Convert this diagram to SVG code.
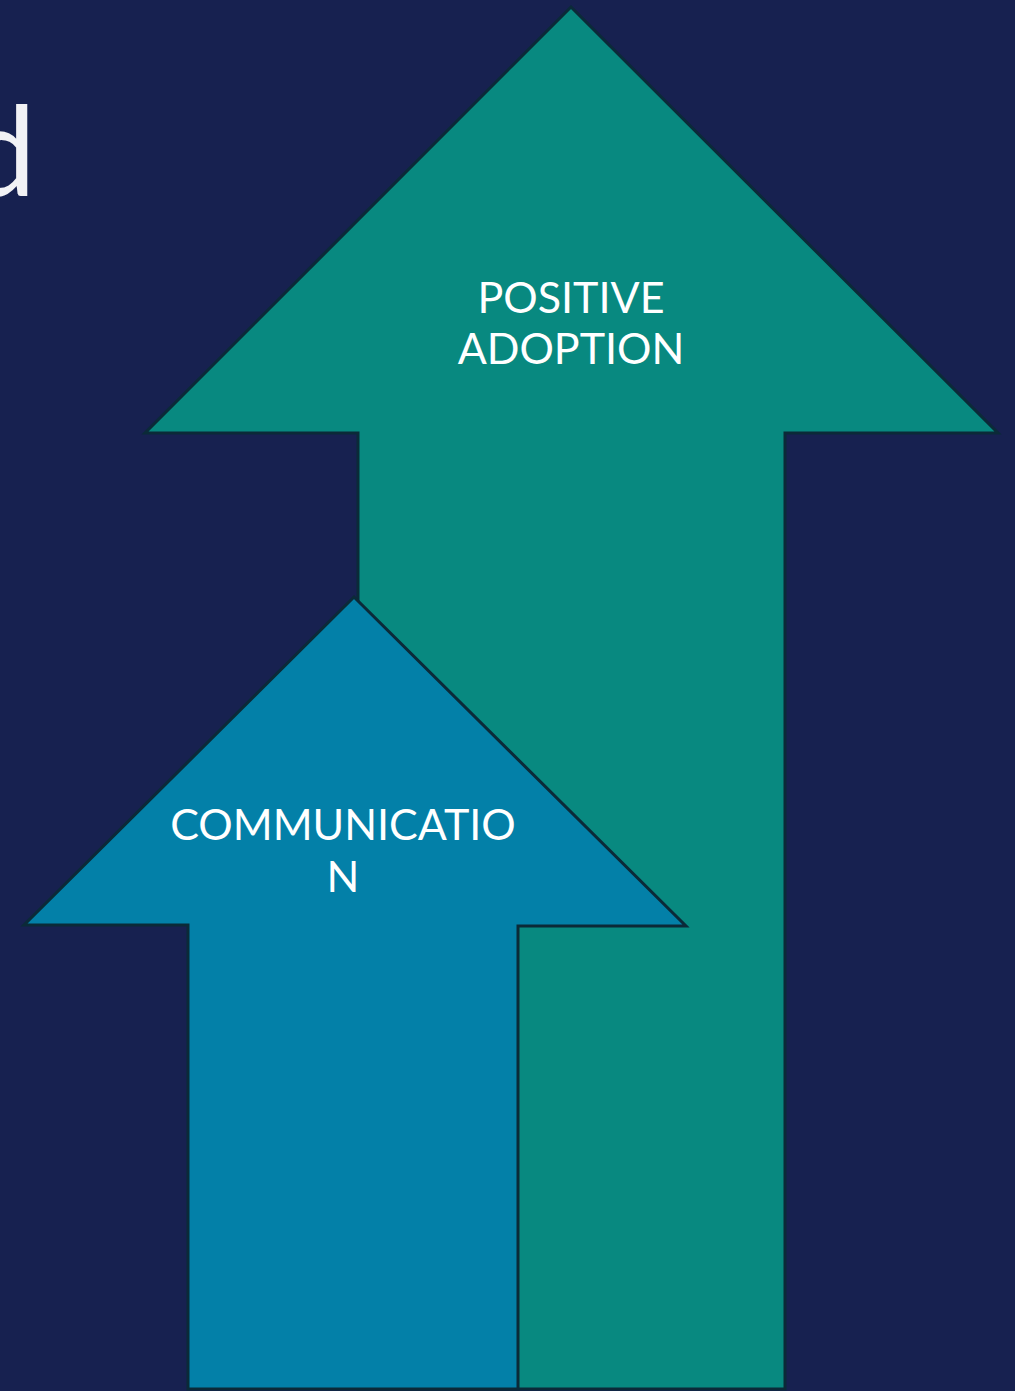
<svg xmlns="http://www.w3.org/2000/svg" width="1015" height="1391" viewBox="0 0 1015 1391">
  <style>
    .arrow { stroke: #0b2a38; stroke-width: 3; stroke-linejoin: miter; }
    .label { font-family: Lato, "Open Sans", "Liberation Sans", sans-serif; font-size: 43px; fill: #ffffff; text-anchor: middle; }
    .title { font-family: Lato, "Open Sans", "Liberation Sans", sans-serif; font-weight: 400; font-size: 124px; fill: #f2f2f5; text-anchor: end; }
  </style>
  <rect width="1015" height="1391" fill="#172150"/>
  <!-- tail of a heading that runs off the left edge -->
  <text class="title" x="36" y="195">d</text>

  <g id="positive-adoption">
    <polygon class="arrow" fill="#088980" points="571,7 998,433 785,433 785,1389 358,1389 358,433 145,433"/>
    <text class="label" x="571" y="313">POSITIVE</text>
    <text class="label" x="571" y="364">ADOPTION</text>
  </g>

  <g id="communication">
    <polygon class="arrow" fill="#0380a8" points="354,597 686,926 518,926 518,1389 188,1389 188,925 24,925"/>
    <text class="label" x="343" y="840">COMMUNICATIO</text>
    <text class="label" x="343" y="892">N</text>
  </g>

  <g id="connectors"/>
</svg>
